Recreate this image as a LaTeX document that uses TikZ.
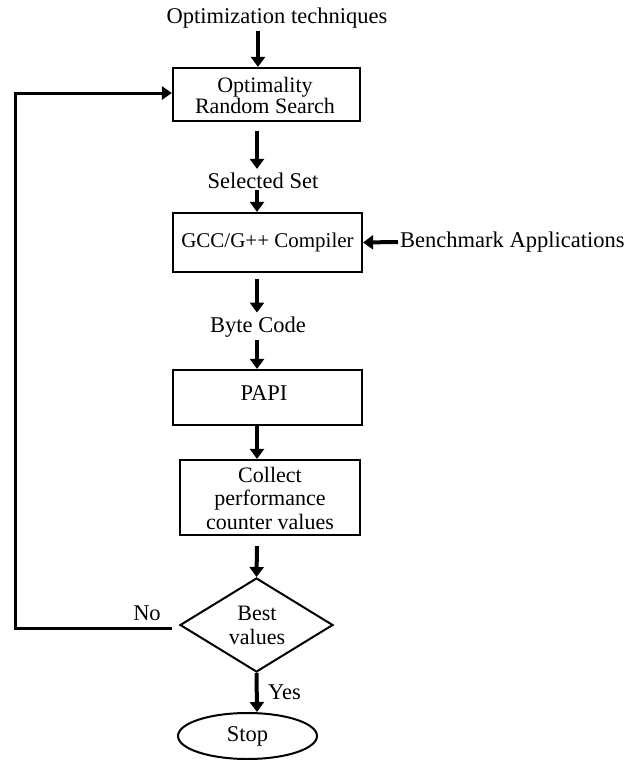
\documentclass[tikz,border=0pt]{standalone}
\usepackage{fontspec}
\setmainfont{Liberation Serif}
\usetikzlibrary{arrows.meta,shapes.geometric}
\begin{document}
\begin{tikzpicture}[x=1pt,y=-1pt,
  every node/.style={font=\fontsize{22.5}{23}\selectfont, inner sep=0pt},
  procbox/.style={draw, line width=2.2pt, align=center},
  lbl/.style={align=center},
  flow/.style={line width=4pt, -{Triangle[width=14pt,length=10pt]}},
  loopline/.style={line width=3pt, -{Triangle[width=13pt,length=10pt]}}]
\useasboundingbox (0,0) rectangle (630,760);
\coordinate (axis) at (257,0);
\node[lbl] (t0) at (277,18) {Optimization techniques};
\node[procbox, minimum width=187pt, minimum height=53pt] (b1) at (266.5,94.5) {};
\node[lbl, font=\fontsize{22}{20}\selectfont] (b1t) at (265,95) {Optimality\\Random Search};
\node[lbl] (sel) at (263,181) {Selected Set};
\node[procbox, minimum width=189pt, minimum height=59pt, font=\fontsize{21}{22}\selectfont] (b2) at (267.5,242.5) {GCC/G++ Compiler};
\node[lbl, anchor=west] (bench) at (400,242) {Benchmark Applications};
\node[lbl] (byte) at (258,327) {Byte Code};
\node[procbox, minimum width=189pt, minimum height=55pt] (b3) at (267.5,397.5) {};
\node[lbl] (papi) at (264,393) {PAPI};
\node[procbox, minimum width=180pt, minimum height=75pt] (b4) at (270,497.5) {};
\node[lbl, font=\fontsize{22}{23.5}\selectfont] (b4t) at (270,498) {Collect\\performance\\counter values};
\node[draw, diamond, line width=2pt, minimum width=153pt, minimum height=94pt, aspect=1.63] (d) at (256.5,625) {};
\node[lbl, font=\fontsize{22}{24}\selectfont] (dt) at (257,625) {Best\\values};
\node[lbl] (no) at (147,613) {No};
\node[lbl, anchor=west] (yes) at (268,692) {Yes};
\node[draw, ellipse, line width=2pt, minimum width=139pt, minimum height=46pt] (stop) at (247.5,736) {Stop};
\coordinate (lc) at (15,0);
% connectors
\draw[flow] (t0.south -| 258,0) ++(0,3) -- (b1.north -| 258,0);
\draw[flow] ([yshift=-9pt]b1.south -| axis) -- ([yshift=4pt]sel.north -| axis);
\draw[flow] ([yshift=-1pt]sel.south -| axis) -- (b2.north -| axis);
\draw[flow] (bench.west) ++(-2,0) -- (b2.east);
\draw[flow] ([yshift=-6pt]b2.south -| axis) -- ([yshift=4pt]byte.north -| axis);
\draw[flow] ([yshift=-3pt]byte.south -| axis) -- (b3.north -| axis);
\draw[flow] (b3.south -| axis) -- (b4.north -| axis);
\draw[flow] ([yshift=-10pt]b4.south -| axis) -- (d.north);
\draw[flow] (d.south) -- (stop.north -| axis);
\draw[loopline] ([xshift=-7pt,yshift=-3pt]d.west) -- ([yshift=-3pt]d.west -| lc) -- (lc |- 0,93) -- (b1.west |- 0,93);
\end{tikzpicture}
\end{document}
